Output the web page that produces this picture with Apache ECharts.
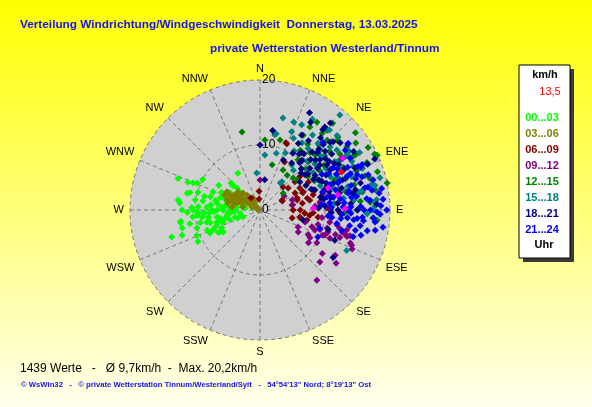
<!DOCTYPE html>
<html>
<head>
<meta charset="utf-8">
<title>Windrichtung/Windgeschwindigkeit</title>
<script src="https://cdn.jsdelivr.net/npm/echarts@6/dist/echarts.min.js"></script>
<style>
    html, body { margin: 0; }
    #main { width: 592px; height: 407px; }
</style>
</head>
<body>
<div id="main"></div>
<script type="text/javascript">
// Himmelsrichtungen im 22,5-Grad-Raster
var directions = ['N','NNE','NE','ENE','E','ESE','SE','SSE','S','SSW','SW','WSW','W','WNW','NW','NNW'];
var radiusTicks = [0, 10, 20];
var hours = ['00...03','03...06','06...09','09...12','12...15','15...18','18...21','21...24'];
var colors = ['#00ff00','#808000','#800000','#800080','#008000','#008080','#000080','#0000ff'];

// Werte: [km/h, Richtung in Grad]
var h00 = [[13.5,291],[11.9,291],[11.1,292],[10.5,293],[10,298],[7.4,301],[6.6,329],[6.1,313],[5.6,312],
    [11.5,283],[11.1,284],[9.9,286],[10.1,279],[8.9,279],[7.9,285],[7.7,291],[6.5,295],[5.3,300],[4.9,314],
    [4.1,312],[12.4,275],[12,270],[10.3,270],[9.5,273],[8.2,273],[6.7,279],[5.7,270],[4.6,274],[3.6,277],
    [3.1,261],[2.3,278],[1.1,286],[10.4,264],[9,263],[7.7,267],[6.7,261],[5.1,261],[4,254],[12.4,261],
    [11,259],[9.4,258],[8.4,257],[6.9,254],[6,252],[4.9,252],[10.1,254],[8.7,249],[7.4,249],[6.5,245],
    [6.6,239],[12.3,257],[12.6,252],[14.2,253],[10.5,248],[8.5,245],[10.7,243],[7.3,242],[3.6,250],[2.8,248],
    [5.2,284],[6.4,287],[6.6,270],[7.4,270],[8.8,267],[11.2,268],[12.3,262],[7.9,247],[7,241],[5.5,257],
    [8.5,267],[6.8,253],[7.9,256],[9.7,265],[5.9,313],[2.9,288],[10.5,272],[12.7,277],
    [5,265],[6,275],[7,282],[8,262],[5.8,288],[4.5,265],[6.2,258],[7.6,276],[8.8,284],[9.6,268],
    [5.4,276],[3.9,268],[4.3,290],[7.1,268]];
var h03 = [[5.9,293],[5.6,298],[4.8,295],[4.5,301],[3.9,301],[3.3,304],[2.8,304],[2.6,315],[2,309],
    [1.5,315],[0.7,315],[0.3,270],[4.9,288],[4.3,287],[3.3,292],[2.3,298],[1.3,291],[3.7,287],[2.7,280],
    [5.3,287],[5,282],[4.3,296],[3.7,315],[3,319],[2.1,330],[1.5,328],[4.3,276],[4.4,309],[5.8,299],
    [3.5,296],[4,292],[2.5,308],[1.8,300],[3,295],[4.7,298],[5.2,296],[3.8,308],[2.2,320],[1,300],[4.1,285]];
var h06 = [[3.7,68],[5.1,90],[6.2,90],[6.3,101],[6.9,94],[7.7,96],[6.6,81],[6,72],[7.5,76],[6,64],
    [7.2,67],[8.5,74],[9.3,83],[10.3,88],[5.1,104],[9,97],[11.1,21],[6.9,51],[7,61],[2.9,357],[2.3,323],
    [1.7,355],[3.7,66],[6.2,100],[7.4,102],[5,81],[7.1,68],[8.7,69],[10,75],[11.4,80],[10.8,90],[12.3,92],
    [8.2,93],[9.2,87],[5.9,75],[7.8,79],[5,45],[5.5,52],[8,50],[8.6,60],[11,22],[8.3,27]];
var h09 = [[6.4,114],[6.8,120],[8.8,119],[9,124],[10.1,120],[11.7,125],[13.5,121],[13.9,141],[14,107],
    [14.8,110],[15.4,113],[14.4,106],[13.1,105],[10.7,105],[9.6,97],[10.9,100],[12.1,101],[5.2,73],[5.1,81],
    [12.2,108],[11,108],[13,109],[10.7,111],[9.2,104],[8.4,108],[13.7,103],[7.2,105],[9.7,108],[11.6,112],
    [14.3,125],[12.2,131],[4.6,0],[4.3,60],[8.3,117],[9,110],[10.4,112],[12.6,103],[13.6,106],[15.1,111],
    [9.4,82],[10.5,88],[12,85],[11,78],[8.5,86]];
var h12 = [[10.8,4],[7.2,15],[13.3,30],[14.9,31],[18.9,51],[19.2,60],[19.6,64],[16,48],[14.9,44],[16.5,54],
    [17.6,74],[20,78],[14.4,63],[11.7,41],[7.3,51],[7.1,46],[11.4,48],[9.7,37],[11.2,16],[18.1,95],[17.4,94],
    [18,80],[17,86],[7.1,30],[12.3,347],[4.4,54],[6.8,38],[16.1,33],[17.4,40],[19.9,65],[16.4,47],[15.2,39],
    [11.1,34],[11.8,41],[12,55],[13,60],[10,62],[14,70],[15,75],[12.5,68],[11,57],[16,68],[13.5,78],
    [15.5,85],[9,55],[10.5,45],[14,50],[17,60],[16,80],
    [12,45],[13.5,42],[15,55],[16.5,60],[18,66],[17,72],[15,90],[13,92],[14.5,58],[11,70],[9.5,48],
    [12.5,36],[16,40],[18,55],[19,72]];
var h15 = [[14.6,14],[14.5,21],[14.6,26],[11.8,11],[9.1,16],[9.6,24],[5.2,37],[12.2,25],[14.1,35],[13.6,41],
    [16.1,40],[19.1,40],[16.1,57],[17.7,60],[13.7,57],[12.7,50],[10.1,41],[8.5,35],[9.6,50],[13.1,45],
    [16.5,46],[15.8,65],[17.7,77],[19.1,75],[12.2,32],[14.7,115],[14.9,90],[16.1,79],[17.7,86],[18.1,78],
    [5.5,38],[12,12],[5.7,355],[16.1,30],[16.3,41],[8.5,5],[16.4,56],[11,60],[12,65],[10,55],[13,68],
    [12.5,48],[9,45],[14,58],[11.5,72],[13,82],[15,70],[10,68],[8,40],[15,52],[12,38],[17.4,90],[17.7,88],
    [13,50],[14.5,48],[15.5,58],[11,50],[10.5,44],[12,58],[14,65],[16,62],[17,68],[13,88],[14.5,84],
    [11.5,85],[18,85],[16.5,92],[15.5,80],[9.5,62],[12.5,75],[14,75],[10.5,30],[13,22]];
var h18 = [[12.4,9],[13.2,29],[16.8,27],[17.2,39],[16.2,38],[16.1,50],[19.3,66],[10.1,30],[8.5,25],[10.9,36],
    [8.8,52],[10.9,54],[12.4,56],[8.7,34],[18,67],[18,87],[13.4,123],[12.4,112],[10.9,106],[6.8,103],
    [10,0],[4.7,9],[15.6,30],[15.7,38],[16.9,53],[15.4,47],[9,45],[10,50],[11,45],[12,50],[9.5,60],
    [10.5,65],[11.5,62],[12.5,60],[13,55],[10,40],[11,38],[13.5,48],[14,60],[12,70],[11,75],[13,75],[9,70],
    [8,62],[14,52],[10,58],[12,42],[8.5,48],[15,58],[13,65],[11,68],[14.5,80],[12,85],[10,80],[9,88],
    [11,92],[16,75],[15,90],[7.5,55],[11.5,53],[13,44],[14,44],
    [9.5,40],[10.5,35],[11.5,48],[12.5,45],[13.5,58],[14.5,64],[10.5,72],[9.5,78],[8.5,68],[12.5,78],
    [13.5,70],[11,80],[10,86],[12,90],[14,86],[15,78],[16,66],[17,58],[14.5,40],[13,35],[11.8,30],[15,46],
    [12.8,52],[10.2,63],[9.2,53]];
var h21 = [[17,53],[14.9,58],[16.8,67],[15.9,70],[14.2,43],[13,60],[19.5,90],[19.1,98],[18,91],[16.8,101],
    [15.6,99],[14.9,106],[9.8,115],[9.6,107],[11.1,96],[12.6,93],[13.8,79],[14.3,69],[12.7,71],[16.5,66],
    [17,85],[17,78],[10.5,79],[10.8,84],[12,75],[13,85],[14,88],[15,82],[16,90],[13.5,95],[12,100],[11,88],
    [14.5,75],[15.5,72],[16,60],[13,65],[12,62],[15,95],[17.5,94],[18.5,82],[11.5,70],[10,74],[9.5,85],
    [14,100],[16.5,84],[17.5,72],[13,104],[15,64],[12.5,82],[11,60],[14,92],[18.6,88],[17.8,96],[19,85],[16,104],
    [13.5,90],[14.5,96],[15.5,88],[16.5,78],[17,90],[18,100],[16,96],[15,102],[12.5,96],[13,70],[14,78],
    [15,68],[16.5,72],[17.5,80],[18,75],[19,80],[11.5,80],[12.8,88],[14.2,82],[15.8,94],[17.2,66],[16,55],
    [13.5,62],[18.5,92],[10.5,95]];
var lastHour = [[15,58],[8.2,88],[12.2,79],[13.1,89],[11,72]];
var current = [[13.8,65]];
var seriesData = [h00, h03, h06, h09, h12, h15, h18, h21];

function scatter(name, color, data) {
    return {
        name: name,
        type: 'scatter',
        coordinateSystem: 'polar',
        polarIndex: 1,
        symbol: 'diamond',
        symbolSize: 7,
        itemStyle: { color: color, opacity: 1 },
        data: data
    };
}
var series = [];
for (var i = 0; i < hours.length; i++) {
    series.push(scatter(hours[i], colors[i], seriesData[i]));
}
series.push(scatter('letzte Stunde', '#ff00ff', lastHour));
series.push(scatter('aktuell', '#ff0000', current));

// Legende rechts als Kasten
var graphics = [
    { type: 'rect', shape: { x: 523, y: 69, width: 51, height: 193 }, style: { fill: '#3a3a3a' } },
    { type: 'rect', shape: { x: 519, y: 65, width: 51, height: 193 }, style: { fill: '#ffffff', stroke: '#000000', lineWidth: 1 } },
    { type: 'text', x: 545, y: 75, style: { text: 'km/h', fill: '#000', font: 'bold 11px "Liberation Sans", Arial', textAlign: 'center', textVerticalAlign: 'middle' } },
    { type: 'text', x: 550, y: 92, style: { text: '13,5', fill: '#ff0000', font: '11px "Liberation Sans", Arial', textAlign: 'center', textVerticalAlign: 'middle' } },
    { type: 'text', x: 544, y: 245, style: { text: 'Uhr', fill: '#000', font: 'bold 11px "Liberation Sans", Arial', textAlign: 'center', textVerticalAlign: 'middle' } }
];
for (var j = 0; j < hours.length; j++) {
    graphics.push({ type: 'text', x: 542, y: 118 + j * 16, style: { text: hours[j], fill: colors[j],
        font: 'bold 11px "Liberation Sans", Arial', textAlign: 'center', textVerticalAlign: 'middle' } });
}
// Texte
graphics.push({ type: 'text', x: 20, y: 25, style: { text: 'Verteilung Windrichtung/Windgeschwindigkeit  Donnerstag, 13.03.2025',
    fill: '#1414e6', font: 'bold 11.8px "Liberation Sans", Arial', textVerticalAlign: 'middle' } });
graphics.push({ type: 'text', x: 210, y: 49, style: { text: 'private Wetterstation Westerland/Tinnum',
    fill: '#1414e6', font: 'bold 11.8px "Liberation Sans", Arial', textVerticalAlign: 'middle' } });
graphics.push({ type: 'text', x: 20, y: 369, style: { text: '1439 Werte   -   \u00d8 9,7km/h  -  Max. 20,2km/h',
    fill: '#000', font: '12px "Liberation Sans", Arial', textVerticalAlign: 'middle' } });
graphics.push({ type: 'text', x: 21, y: 385, style: { text: '\u00a9 WsWin32   -   \u00a9 private Wetterstation Tinnum/Westerland/Sylt   -   54\u00b054\'13" Nord; 8\u00b019\'13" Ost',
    fill: '#1414e6', font: 'bold 7.7px "Liberation Sans", Arial', textVerticalAlign: 'middle' } });

var option = {
    animation: false,
    backgroundColor: {
        type: 'linear', x: 0, y: 0, x2: 0, y2: 1,
        colorStops: [{ offset: 0, color: '#ffff00' }, { offset: 1, color: '#ffffec' }]
    },
    // Polar 0: nur graue Scheibe, Polar 1: Gitter, Beschriftung und Punkte
    polar: [
        { center: [260, 210], radius: 130 },
        { center: [260, 210], radius: 130 }
    ],
    angleAxis: [{
        polarIndex: 0, z: 0,
        type: 'value', min: 0, max: 360, interval: 90,
        startAngle: 90, clockwise: true,
        axisLine: { show: false }, axisTick: { show: false }, axisLabel: { show: false },
        splitLine: { show: false },
        splitArea: { show: true, areaStyle: { color: ['#d0d0d0'] } }
    }, {
        polarIndex: 1, z: 1,
        type: 'value', min: 0, max: 360, interval: 22.5,
        startAngle: 90, clockwise: true,
        axisLine: { show: false },
        axisTick: { show: false },
        axisLabel: {
            margin: 6, color: '#000', fontSize: 11, fontFamily: 'Liberation Sans',
            formatter: function (v) { return directions[Math.round(v / 22.5) % 16]; }
        },
        splitLine: { show: true, lineStyle: { color: '#787878', type: [4, 3], width: 1 } }
    }],
    radiusAxis: [{
        polarIndex: 0, z: 0,
        min: 0, max: 20, interval: 10,
        axisLine: { show: false }, axisTick: { show: false }, axisLabel: { show: false },
        splitLine: { show: false }
    }, {
        polarIndex: 1, z: 1,
        min: 0, max: 20, interval: 10,
        axisLine: { show: false },
        axisTick: { show: false },
        axisLabel: {
            showMinLabel: true, align: 'left', margin: -2,
            color: '#000', fontSize: 12, fontFamily: 'Liberation Sans',
            formatter: function (v) { return radiusTicks.indexOf(v) >= 0 ? String(v) : ''; }
        },
        splitLine: { show: true, lineStyle: { color: '#787878', type: [4, 3], width: 1 } }
    }],
    graphic: graphics,
    series: series
};
var myChart = echarts.init(document.getElementById('main'));
myChart.setOption(option);
</script>
</body>
</html>
